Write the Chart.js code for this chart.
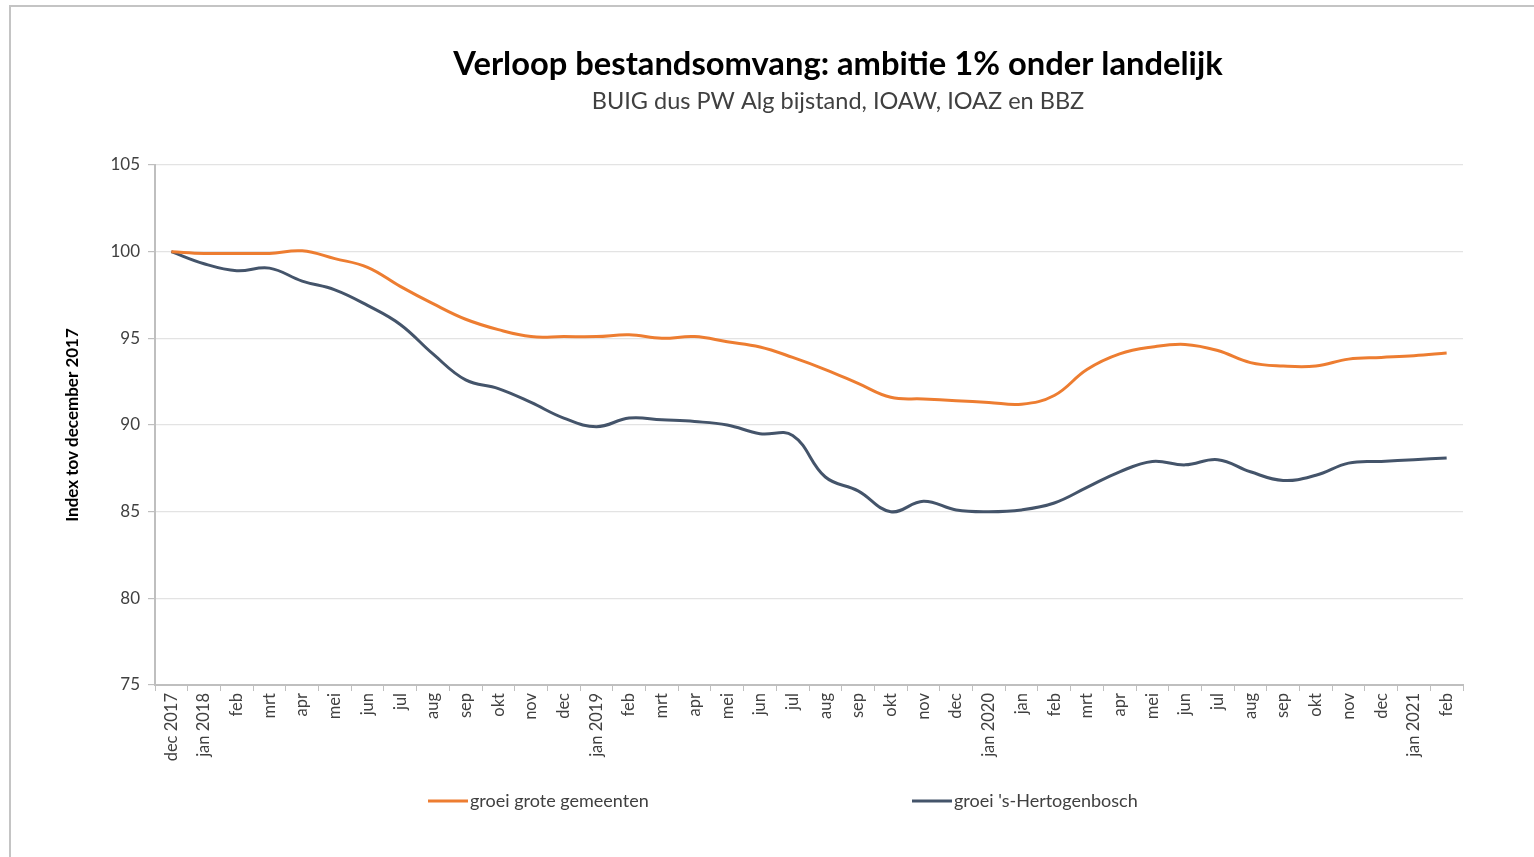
<!DOCTYPE html>
<html>
<head>
<meta charset="utf-8">
<script src="https://cdn.jsdelivr.net/npm/chart.js@4"></script>
<style>
  html, body { margin: 0; padding: 0; background: #ffffff; }
  #wrap { position: relative; width: 1534px; height: 857px; }
  canvas { display: block; }
</style>
</head>
<body>
<div id="wrap"><canvas id="c" width="1534" height="857"></canvas></div>
<script>
// ---- data ----
const chartTitle = "Verloop bestandsomvang: ambitie 1% onder landelijk";
const chartSubtitle = "BUIG dus PW Alg bijstand, IOAW, IOAZ en BBZ";
const yAxisTitle = "Index tov december 2017";
const categories = [
  "dec 2017", "jan 2018", "feb", "mrt", "apr", "mei", "jun", "jul", "aug", "sep", "okt", "nov", "dec",
  "jan 2019", "feb", "mrt", "apr", "mei", "jun", "jul", "aug", "sep", "okt", "nov", "dec",
  "jan 2020", "jan", "feb", "mrt", "apr", "mei", "jun", "jul", "aug", "sep", "okt", "nov", "dec",
  "jan 2021", "feb"
];
const seriesNames = ["groei grote gemeenten", "groei 's-Hertogenbosch"];
const groteGemeenten = [
  100.0, 99.9, 99.9, 99.9, 100.05, 99.6, 99.1, 98.0, 97.0, 96.1, 95.5, 95.1, 95.1,
  95.1, 95.2, 95.0, 95.1, 94.8, 94.5, 93.9, 93.2, 92.4, 91.6, 91.5, 91.4,
  91.3, 91.2, 91.7, 93.2, 94.1, 94.5, 94.65, 94.3, 93.6, 93.4, 93.4, 93.8, 93.9,
  94.0, 94.15
];
const hertogenbosch = [
  100.0, 99.3, 98.9, 99.05, 98.3, 97.8, 96.9, 95.8, 94.1, 92.6, 92.1, 91.3, 90.4,
  89.9, 90.4, 90.3, 90.2, 90.0, 89.5, 89.4, 87.0, 86.2, 85.0, 85.6, 85.1,
  85.0, 85.1, 85.5, 86.4, 87.3, 87.9, 87.7, 88.0, 87.3, 86.8, 87.1, 87.8, 87.9,
  88.0, 88.1
];
const yMin = 75, yMax = 105, yStep = 5;
const seriesColors = ["#ED7D31", "#44546A"];

const FONT = "Lato, 'Open Sans', 'Noto Sans', sans-serif";

// custom drawing of titles, legend and outer frame
const decorPlugin = {
  id: 'decor',
  afterDraw(chart) {
    const ctx = chart.ctx;
    ctx.save();
    // outer frame (top + left)
    ctx.strokeStyle = '#c4c4c4';
    ctx.lineWidth = 2;
    ctx.beginPath();
    ctx.moveTo(10, 857);
    ctx.lineTo(10, 6);
    ctx.lineTo(1534, 6);
    ctx.stroke();
    // title
    ctx.fillStyle = '#000000';
    ctx.textAlign = 'center';
    ctx.textBaseline = 'middle';
    ctx.font = "bold 32.7px " + FONT;
    ctx.fillText(chartTitle, 838, 64);
    ctx.fillStyle = '#404040';
    ctx.font = "23.5px " + FONT;
    ctx.fillText(chartSubtitle, 838, 101);
    // legend
    const legendX = [428, 912];
    ctx.font = "18px " + FONT;
    ctx.textAlign = 'left';
    chart.data.datasets.forEach((ds, i) => {
      const x = legendX[i];
      ctx.strokeStyle = ds.borderColor;
      ctx.lineWidth = 3;
      ctx.beginPath();
      ctx.moveTo(x, 801);
      ctx.lineTo(x + 40, 801);
      ctx.stroke();
      ctx.fillStyle = '#404040';
      ctx.fillText(ds.label, x + 42, 801);
    });
    ctx.restore();
  }
};

new Chart(document.getElementById('c'), {
  type: 'line',
  data: {
    labels: categories,
    datasets: [
      {
        label: seriesNames[0],
        data: groteGemeenten,
        borderColor: seriesColors[0],
        backgroundColor: seriesColors[0],
        borderWidth: 3,
        pointRadius: 0,
        tension: 0.4,
        fill: false
      },
      {
        label: seriesNames[1],
        data: hertogenbosch,
        borderColor: seriesColors[1],
        backgroundColor: seriesColors[1],
        borderWidth: 3,
        pointRadius: 0,
        tension: 0.4,
        fill: false
      }
    ]
  },
  options: {
    responsive: false,
    animation: false,
    devicePixelRatio: 1,
    layout: { padding: { top: 165, left: 0, right: 71, bottom: 72 } },
    plugins: {
      legend: { display: false },
      title: { display: false },
      tooltip: { enabled: false }
    },
    scales: {
      x: {
        offset: true,
        grid: {
          offset: true,
          drawOnChartArea: false,
          drawTicks: true,
          tickLength: 6,
          color: '#bfbfbf'
        },
        border: { color: '#bfbfbf', width: 2 },
        ticks: {
          autoSkip: false,
          minRotation: 90,
          maxRotation: 90,
          padding: 2,
          color: '#404040',
          font: { family: FONT, size: 16.5 }
        },
        afterFit(scale) { scale.height = 100; }
      },
      y: {
        min: yMin,
        max: yMax,
        ticks: {
          stepSize: yStep,
          padding: 8,
          color: '#404040',
          font: { family: FONT, size: 17 }
        },
        grid: {
          color: '#e3e3e3',
          lineWidth: 1.2,
          tickColor: '#bfbfbf',
          tickLength: 7
        },
        border: { color: '#bfbfbf', width: 2 },
        title: {
          display: true,
          text: yAxisTitle,
          color: '#000000',
          font: { family: FONT, size: 17, weight: 'bold' },
          padding: { top: 62, bottom: 0 }
        },
        afterFit(scale) { scale.width = 155; }
      }
    }
  },
  plugins: [decorPlugin]
});
</script>
</body>
</html>
